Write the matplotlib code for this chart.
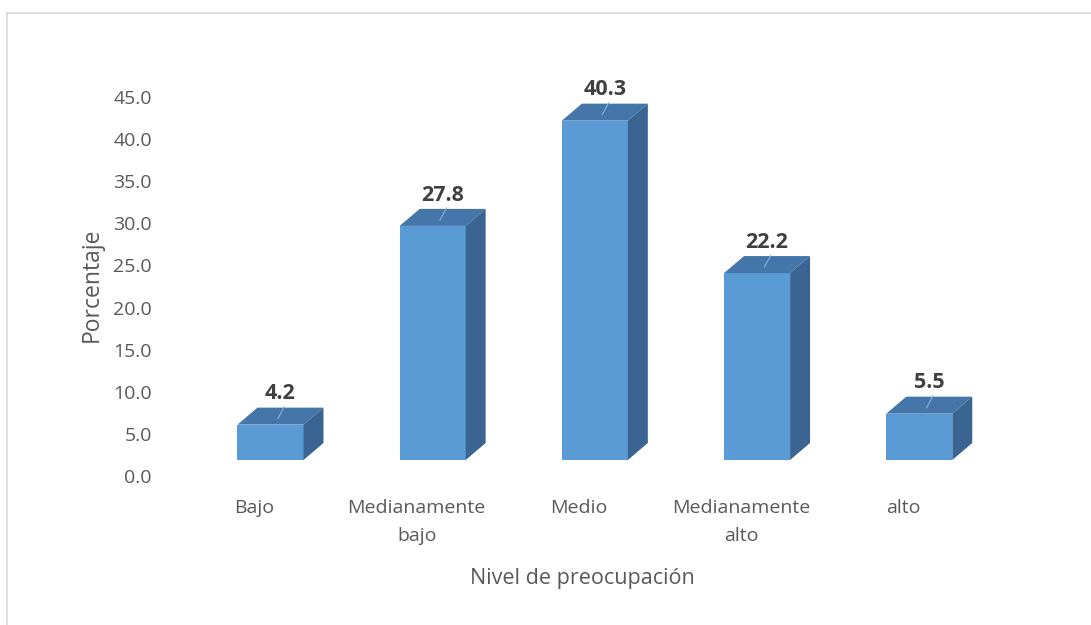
import matplotlib.pyplot as plt
import matplotlib.transforms as mtransforms
from matplotlib.patches import Polygon
from matplotlib.lines import Line2D
import numpy as np

plt.rcParams['font.family'] = ['Open Sans', 'DejaVu Sans']

# datos
categorias = ['Bajo', 'Medianamente\nbajo', 'Medio', 'Medianamente\nalto', 'alto']
porcentajes = [4.2, 27.8, 40.3, 22.2, 5.5]
yticks = np.arange(0, 46, 5)

c_front = '#5B9BD5'
c_top = '#4576A9'
c_side = '#3A6592'
gris = '#595959'

fig = plt.figure(figsize=(10.91, 6.25), dpi=100)
ax = fig.add_axes([0.1736, 0.264, 0.7582, 0.6467])

x = np.arange(len(porcentajes))
w = 0.407   # ancho de la barra
dx = 0.123  # profundidad (x)
dy = 2.02   # profundidad (y)

ax.bar(x, porcentajes, width=w, color=c_front, zorder=3)
for xi, v in zip(x, porcentajes):
    l, r = xi - w / 2, xi + w / 2
    top = Polygon([(l, v), (r, v), (r + dx, v + dy), (l + dx, v + dy)],
                  closed=True, facecolor=c_top, edgecolor='none', zorder=3)
    side = Polygon([(r, 0), (r + dx, dy), (r + dx, v + dy), (r, v)],
                   closed=True, facecolor=c_side, edgecolor='none', zorder=3)
    ax.add_patch(top)
    ax.add_patch(side)
    # linea guia de la etiqueta
    ax.plot([xi + 0.045, xi + 0.085], [v + dy * 0.35, v + dy * 1.05],
            color='#8CB0D8', lw=0.8, zorder=4)
    ax.text(xi + dx / 2, v + dy + 0.4, f'{v:.1f}', ha='center', va='bottom',
            fontsize=15.5, fontweight='bold', color='#404040', zorder=5)

ax.set_xlim(-0.5, 4.6)
ax.set_ylim(0, 48)
ax.set_yticks(yticks, [f'{t:.1f}' for t in yticks])
ax.set_xticks(x, categorias)

for s in ax.spines.values():
    s.set_visible(False)
ax.tick_params(axis='both', length=0, colors=gris, labelsize=14)
ax.tick_params(axis='y', pad=27)
ax.tick_params(axis='x', pad=28)

# desplazamiento de las etiquetas (efecto 3D)
off_y = mtransforms.ScaledTranslation(0, -16 / 100, fig.dpi_scale_trans)
for lab in ax.get_yticklabels():
    lab.set_transform(lab.get_transform() + off_y)
off_x = mtransforms.ScaledTranslation(-16 / 100, 0, fig.dpi_scale_trans)
for lab in ax.get_xticklabels():
    lab.set_transform(lab.get_transform() + off_x)
    lab.set_linespacing(1.7)

ax.set_ylabel('Porcentaje', fontsize=16.5, color=gris)
ax.yaxis.set_label_coords(-0.104, 0.433)
ax.set_xlabel('Nivel de preocupación', fontsize=15.5, color=gris)
ax.xaxis.set_label_coords(0.4746, -0.268)

# borde del grafico
fig.add_artist(Line2D([7 / 1091, 1], [1 - 13 / 625, 1 - 13 / 625],
                      transform=fig.transFigure, color='#D9D9D9', lw=1.2))
fig.add_artist(Line2D([7 / 1091, 7 / 1091], [0, 1 - 13 / 625],
                      transform=fig.transFigure, color='#D9D9D9', lw=1.2))

plt.savefig('out.png', dpi=100)
